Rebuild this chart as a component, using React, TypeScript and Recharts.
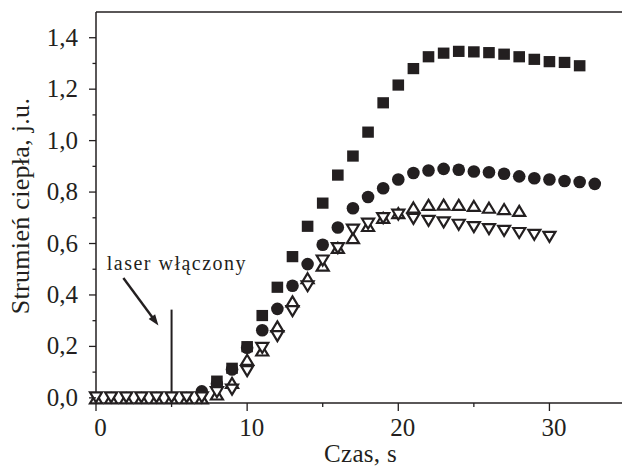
import React from 'react';
import { ScatterChart, Scatter, XAxis, YAxis, ReferenceLine, ReferenceDot } from 'recharts';

// Czas pomiaru [s]
const czas = [
  0, 1, 2, 3, 4, 5, 6, 7, 8, 9, 10, 11, 12, 13, 14, 15, 16,
  17, 18, 19, 20, 21, 22, 23, 24, 25, 26, 27, 28, 29, 30, 31, 32, 33,
];

// Strumień ciepła [j.u.] – cztery serie pomiarowe
const kwadraty = [
  null, null, null, null, null, null, null, null,
  0.065, 0.115, 0.199, 0.32, 0.43, 0.549, 0.667, 0.757, 0.866, 0.94, 1.033,
  1.147, 1.216, 1.28, 1.326, 1.34, 1.347, 1.345, 1.342, 1.336, 1.326, 1.316,
  1.307, 1.304, 1.291, null,
];
const kola = [
  null, null, null, null, null, null, null,
  0.025, 0.055, 0.11, 0.195, 0.263, 0.346, 0.436, 0.52, 0.595, 0.662, 0.737,
  0.781, 0.815, 0.849, 0.874, 0.884, 0.89, 0.887, 0.88, 0.877, 0.871, 0.861,
  0.854, 0.849, 0.843, 0.839, 0.832,
];
const trojkatyGora = [
  0, 0, 0, 0, 0, 0, 0,
  0, 0.015, 0.06, 0.15, 0.186, 0.28, 0.377, 0.467, 0.516, 0.585, 0.623,
  0.67, 0.702, 0.72, 0.742, 0.752, 0.753, 0.752, 0.748, 0.741, 0.736, 0.729,
  null, null, null, null, null,
];
const trojkatyDol = [
  0, 0, 0, 0, 0, 0, 0,
  0, 0.02, 0.03, 0.102, 0.192, 0.238, 0.335, 0.432, 0.532, 0.58, 0.652,
  0.675, 0.697, 0.71, 0.694, 0.686, 0.68, 0.671, 0.662, 0.654, 0.647, 0.639,
  0.632, 0.624, null, null, null,
];

// Osie
const xMajorTicks = [0, 10, 20, 30];
const xMinorTicks = [5, 15, 25];
const xTickLabels = ['0', '10', '20', '30'];
const yMajorTicks = [0, 0.2, 0.4, 0.6, 0.8, 1.0, 1.2, 1.4];
const yMinorTicks = [0.1, 0.3, 0.5, 0.7, 0.9, 1.1, 1.3];
const yTickLabels = ['0,0', '0,2', '0,4', '0,6', '0,8', '1,0', '1,2', '1,4'];

// Adnotacja: włączenie lasera
const laserText = { x: 0.71, y: 0.498, label: 'laser włączony' };
const laserArrow = [
  { x: 1.81, y: 0.466 },
  { x: 4.13, y: 0.281 },
];
const laserMarker = [
  { x: 5, y: 0 },
  { x: 5, y: 0.343 },
];

const INK = '#231f20';
const FONT = "'Liberation Serif', 'Times New Roman', serif";

const toPoints = (values: (number | null)[]) =>
  czas
    .map((t, i) => ({ x: t, y: values[i] }))
    .filter((p) => p.y !== null && p.y !== undefined);

const isTick = (list: number[], v: number) => list.findIndex((t) => Math.abs(t - v) < 1e-6);

const SquareMark = (p: any) => (
  <rect x={p.cx - 5.8} y={p.cy - 5.6} width={11.6} height={11.2} fill={INK} />
);
const CircleMark = (p: any) => <circle cx={p.cx} cy={p.cy} r={6.3} fill={INK} />;
const UpMark = (p: any) => (
  <path
    d={`M${p.cx},${p.cy - 4.5} L${p.cx + 6},${p.cy + 5.5} L${p.cx - 6},${p.cy + 5.5} Z`}
    fill="#fff"
    stroke={INK}
    strokeWidth={2.2}
    strokeLinejoin="miter"
  />
);
const DownMark = (p: any) => (
  <path
    d={`M${p.cx},${p.cy + 4.5} L${p.cx + 6},${p.cy - 5.5} L${p.cx - 6},${p.cy - 5.5} Z`}
    fill="#fff"
    stroke={INK}
    strokeWidth={2.2}
    strokeLinejoin="miter"
  />
);

const YTick = (props: any) => {
  const { x, y, payload } = props;
  const idx = isTick(yMajorTicks, payload.value);
  const major = idx >= 0;
  return (
    <g>
      <line x1={x} x2={x - (major ? 7 : 3.5)} y1={y} y2={y} stroke={INK} strokeWidth={1.3} />
      {major && (
        <text x={x - 18} y={y + 8} textAnchor="end" fontSize={25} fontFamily={FONT} fill={INK}>
          {yTickLabels[idx]}
        </text>
      )}
    </g>
  );
};

const XTick = (props: any) => {
  const { x, y, payload } = props;
  const idx = isTick(xMajorTicks, payload.value);
  const major = idx >= 0;
  return (
    <g>
      <line x1={x} x2={x} y1={y} y2={y + (major ? 8 : 4)} stroke={INK} strokeWidth={1.3} />
      {major && (
        <text x={x + 4.5} y={y + 33} textAnchor="middle" fontSize={25} fontFamily={FONT} fill={INK}>
          {xTickLabels[idx]}
        </text>
      )}
    </g>
  );
};

const XTitle = (props: any) => {
  const vb = props.viewBox || { x: 96, y: 403, width: 529, height: 1 };
  return (
    <text
      x={vb.x + vb.width / 2}
      y={vb.y + 59}
      textAnchor="middle"
      fontSize={25}
      letterSpacing={0.3}
      fontFamily={FONT}
      fill={INK}
    >
      Czas, s
    </text>
  );
};

const YTitle = (props: any) => {
  const vb = props.viewBox || { x: 95, y: 12, width: 1, height: 391 };
  const cx = vb.x + vb.width - 67.5;
  const cy = vb.y + vb.height / 2 - 1.5;
  return (
    <text
      x={cx}
      y={cy}
      transform={`rotate(-90 ${cx} ${cy})`}
      textAnchor="middle"
      fontSize={26}
      letterSpacing={0.3}
      fontFamily={FONT}
      fill={INK}
    >
      Strumień ciepła, j.u.
    </text>
  );
};

const ArrowShape = (p: any) => {
  const { x1, y1, x2, y2 } = p;
  const dx = x2 - x1;
  const dy = y2 - y1;
  const len = Math.sqrt(dx * dx + dy * dy);
  const ux = dx / len;
  const uy = dy / len;
  const head = 11;
  const half = 4;
  const bx = x2 - ux * head;
  const by = y2 - uy * head;
  return (
    <g>
      <line x1={x1} y1={y1} x2={bx + ux * 2} y2={by + uy * 2} stroke={INK} strokeWidth={2.4} />
      <path
        d={`M${x2},${y2} L${bx - uy * half},${by + ux * half} L${bx + uy * half},${by - ux * half} Z`}
        fill={INK}
      />
    </g>
  );
};

const LaserLabel = (p: any) => (
  <text
    x={p.cx}
    y={p.cy}
    fontSize={20}
    letterSpacing={1.5}
    fontFamily={FONT}
    fill={INK}
  >
    {laserText.label}
  </text>
);

export default function App() {
  return (
    <div
      style={{
        position: 'absolute',
        left: 0,
        top: 0,
        width: 622,
        height: 467,
        overflow: 'hidden',
        background: '#fff',
      }}
    >
      <ScatterChart width={622} height={467} margin={{ top: 12, right: -3, bottom: 63, left: 95 }}>
        <XAxis
          type="number"
          dataKey="x"
          domain={[0, 35]}
          ticks={[...xMajorTicks, ...xMinorTicks].sort((a, b) => a - b)}
          interval={0}
          height={1}
          tickSize={0}
          tickMargin={0}
          tickLine={false}
          tick={<XTick />}
          axisLine={{ stroke: INK, strokeWidth: 1.5 }}
          label={XTitle}
        />
        <YAxis
          type="number"
          dataKey="y"
          domain={[-0.02, 1.5]}
          ticks={[...yMajorTicks, ...yMinorTicks].sort((a, b) => a - b)}
          interval={0}
          width={1}
          tickSize={0}
          tickMargin={0}
          tickLine={false}
          tick={<YTick />}
          axisLine={{ stroke: INK, strokeWidth: 1.5 }}
          label={YTitle}
        />
        <ReferenceLine y={1.5} stroke={INK} strokeWidth={1.5} />
        <ReferenceLine segment={laserMarker} stroke={INK} strokeWidth={2} />
        <ReferenceLine segment={laserArrow} shape={ArrowShape} />
        <ReferenceDot x={laserText.x} y={laserText.y} r={0} shape={LaserLabel} />
        <Scatter data={toPoints(kwadraty)} shape={SquareMark} isAnimationActive={false} />
        <Scatter data={toPoints(kola)} shape={CircleMark} isAnimationActive={false} />
        <Scatter data={toPoints(trojkatyGora)} shape={UpMark} isAnimationActive={false} />
        <Scatter data={toPoints(trojkatyDol)} shape={DownMark} isAnimationActive={false} />
      </ScatterChart>
    </div>
  );
}
